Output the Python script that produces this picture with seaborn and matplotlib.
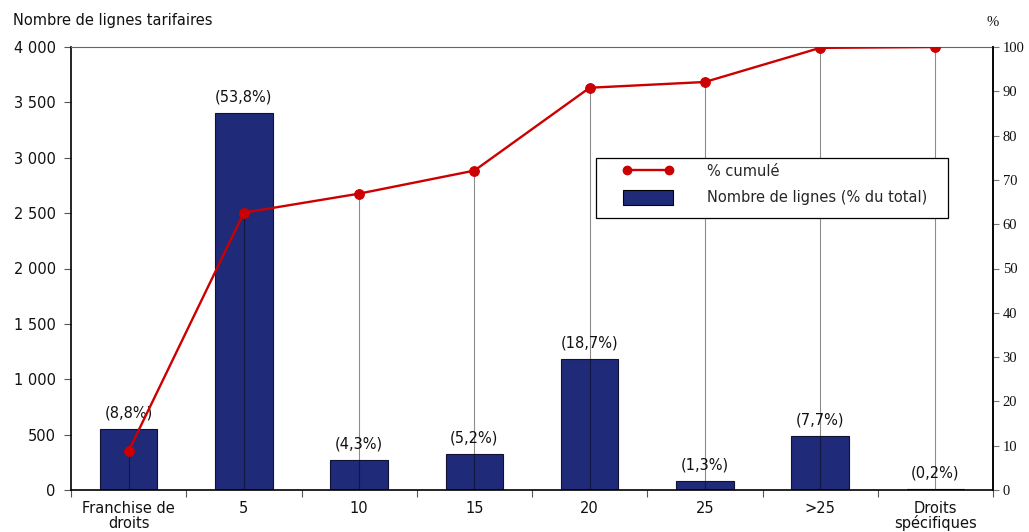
import matplotlib
matplotlib.use("Agg")
import matplotlib.pyplot as plt
from matplotlib.ticker import FuncFormatter, FixedLocator, MultipleLocator
from matplotlib.lines import Line2D
from matplotlib.patches import Patch, Rectangle
import seaborn as sns
import pandas as pd

categories = ["Franchise de\ndroits", "5", "10", "15", "20", "25", ">25", "Droits\nspécifiques"]
counts = [555, 3403, 272, 328, 1183, 82, 485, 13]
pct_labels = ["(8,8%)", "(53,8%)", "(4,3%)", "(5,2%)", "(18,7%)", "(1,3%)", "(7,7%)", "(0,2%)"]
cumulative = [8.8, 62.6, 66.9, 72.1, 90.8, 92.1, 99.8, 100.0]

bar_color = "#1f2a78"
line_color = "#cc0000"

sns.set_theme(style="white")
plt.rcParams["font.family"] = ["DejaVu Sans"]

W, H = 1029, 532
fig = plt.figure(figsize=(W/100, H/100), dpi=100)
ax = fig.add_axes([71/W, 1-490/H, (993-71)/W, (490-47)/H])

df = pd.DataFrame({"cat": categories, "n": counts})
sns.barplot(data=df, x="cat", y="n", color=bar_color, width=0.5, ax=ax,
            edgecolor="#111133", linewidth=0.8, saturation=1)

ax.set_xlim(-0.5, 7.5)
ax.set_ylim(0, 4000)
ax.set_xlabel("")
ax.set_ylabel("")
ax.yaxis.set_major_locator(MultipleLocator(500))
ax.yaxis.set_major_formatter(FuncFormatter(lambda v, p: f"{int(v):,}".replace(",", " ")))
ax.tick_params(axis="y", which="major", left=True, length=5, width=0.8, color="#555555",
               labelsize=10.5, labelcolor="#111111", pad=6)
ax.xaxis.set_minor_locator(FixedLocator([i - 0.5 for i in range(9)]))
ax.tick_params(axis="x", which="major", length=0, labelsize=10.5, labelcolor="#111111", pad=8)
ax.tick_params(axis="x", which="minor", bottom=True, length=5, width=0.8, color="#555555")
for lbl in ax.get_xticklabels():
    lbl.set_linespacing(0.95)

for s in ["left", "bottom"]:
    ax.spines[s].set_color("black")
    ax.spines[s].set_linewidth(1.2)
ax.spines["top"].set_color("#666666")
ax.spines["top"].set_linewidth(0.8)

for i, (c, lab) in enumerate(zip(counts, pct_labels)):
    ax.annotate(lab, (i, c), xytext=(0, 6), textcoords="offset points",
                ha="center", va="bottom", fontsize=10.5, color="#111111")

ax2 = ax.twinx()
ax2.set_ylim(0, 100)
ax2.yaxis.set_major_locator(MultipleLocator(10))
ax2.tick_params(axis="y", right=True, length=4, width=0.8, color="#777777",
                labelsize=10.5, labelcolor="#111111", pad=3)
for lbl in ax2.get_yticklabels():
    lbl.set_fontfamily("Liberation Serif")
ax2.spines["right"].set_color("black")
ax2.spines["right"].set_linewidth(1.2)
ax2.spines["top"].set_visible(False)
ax2.spines["left"].set_visible(False)
ax2.spines["bottom"].set_visible(False)

xs = list(range(len(categories)))
ax2.vlines(xs, 0, cumulative, colors="black", alpha=0.45, linewidth=0.8, zorder=2)
sns.lineplot(x=xs, y=cumulative, ax=ax2, color=line_color, linewidth=1.7,
             marker="o", markersize=7, markeredgecolor=line_color, zorder=3)
ax2.set_xlim(-0.5, 7.5)

fig.text(13/W, 1-20/H, "Nombre de lignes tarifaires", fontsize=10.5,
         ha="left", va="center", color="#111111")
fig.text(993/W, 1-22/H, "%", fontsize=10.5, ha="center", va="center",
         color="#111111", family="Liberation Serif")

# legend frame
frame = Rectangle((596/W, 1-218/H), (948-596)/W, (218-158)/H, transform=fig.transFigure,
                  facecolor="white", edgecolor="black", linewidth=0.9, zorder=5)
fig.add_artist(frame)

fs = 10.5
fs_px = fs * 100 / 72
handles = [Line2D([0], [0], color=line_color, linewidth=1.7, marker="o", markersize=6),
           Patch(facecolor=bar_color, edgecolor="black", linewidth=0.8)]
leg = fig.legend(handles, ["% cumulé", "Nombre de lignes (% du total)"],
                 loc="upper left", bbox_to_anchor=(623/W, 1-164/H),
                 bbox_transform=fig.transFigure, numpoints=2, fontsize=fs,
                 frameon=False,
                 handlelength=50/fs_px, handleheight=17/fs_px, handletextpad=34/fs_px,
                 borderpad=0, labelspacing=11/fs_px, borderaxespad=0)
leg.set_zorder(6)

fig.savefig("out.png", dpi=100)
